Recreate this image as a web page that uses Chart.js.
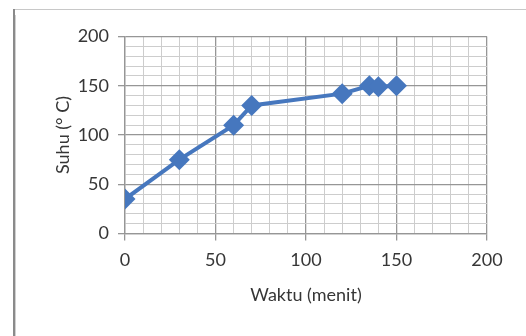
<!DOCTYPE html>
<html>
<head>
<meta charset="utf-8">
<style>
  html, body { margin: 0; padding: 0; background: #fff; }
  #wrap { width: 526px; height: 336px; position: relative; }
</style>
<script src="https://cdn.jsdelivr.net/npm/chart.js@4/dist/chart.umd.min.js"></script>
</head>
<body>
<div id="wrap"><canvas id="c" width="526" height="336"></canvas></div>
<script>
// Heating curve: temperature against time
const waktu = [0, 30, 60, 70, 120, 135, 140, 150];      // minutes
const suhu  = [35, 75, 110, 130, 142, 150, 149, 150];   // degrees C
const xTicks = [0, 50, 100, 150, 200];
const yTicks = [0, 50, 100, 150, 200];

const FONT = 'Lato, "Open Sans", sans-serif';
const TEXT = '#363636';
const BLUE = '#4677be';

const isMajor = (v) => v % 50 === 0;

// Outer frame: dark left edge and thin top rule
const framePlugin = {
  id: 'frame',
  beforeDraw(chart) {
    const ctx = chart.ctx;
    ctx.save();
    ctx.fillStyle = '#ffffff';
    ctx.fillRect(0, 0, chart.width, chart.height);
    ctx.fillStyle = '#8a8a8a';
    ctx.fillRect(13, 9, 2, chart.height - 9);
    ctx.fillStyle = '#d0d0d0';
    ctx.fillRect(15, 15, 1, chart.height - 15);
    ctx.fillStyle = '#c8c8c8';
    ctx.fillRect(15, 9, chart.width - 15, 1);
    ctx.restore();
  }
};

new Chart(document.getElementById('c'), {
  type: 'scatter',
  data: {
    datasets: [{
      data: waktu.map((x, i) => ({ x, y: suhu[i] })),
      showLine: true,
      borderColor: BLUE,
      backgroundColor: BLUE,
      borderWidth: 4,
      pointStyle: 'rectRot',
      pointRadius: 10.5,
      pointBorderWidth: 0,
      pointBackgroundColor: BLUE,
      tension: 0
    }]
  },
  options: {
    responsive: false,
    animation: false,
    devicePixelRatio: 1,
    layout: { padding: { left: 52, right: 39, top: 36.5, bottom: 30 } },
    plugins: { legend: { display: false }, tooltip: { enabled: false } },
    scales: {
      x: {
        type: 'linear',
        min: 0, max: 200,
        ticks: {
          stepSize: 10,
          autoSkip: false,
          maxRotation: 0,
          color: TEXT,
          font: { family: FONT, size: 18 },
          padding: 9,
          callback: (v) => (xTicks.includes(v) ? String(v) : '')
        },
        grid: {
          color: (c) => (isMajor(c.tick.value) ? '#969696' : '#cdcdcd'),
          tickColor: (c) => (isMajor(c.tick.value) ? '#969696' : 'rgba(0,0,0,0)'),
          tickLength: 7,
          lineWidth: (c) => (isMajor(c.tick.value) ? 1.3 : 1)
        },
        border: { display: true, color: '#969696', width: 1.3 },
        title: {
          display: true,
          text: 'Waktu (menit)',
          color: TEXT,
          font: { family: FONT, size: 18 },
          padding: { top: 0, bottom: 0 }
        },
        afterFit: (s) => { s.height = 72.5; }
      },
      y: {
        type: 'linear',
        min: 0, max: 200,
        ticks: {
          stepSize: 10,
          autoSkip: false,
          color: TEXT,
          font: { family: FONT, size: 18 },
          padding: 9,
          callback: (v) => (yTicks.includes(v) ? String(v) : '')
        },
        grid: {
          color: (c) => (isMajor(c.tick.value) ? '#969696' : '#cdcdcd'),
          tickColor: (c) => (isMajor(c.tick.value) ? '#969696' : 'rgba(0,0,0,0)'),
          tickLength: 7,
          lineWidth: (c) => (isMajor(c.tick.value) ? 1.3 : 1)
        },
        border: { display: true, color: '#969696', width: 1.3 },
        title: {
          display: true,
          text: 'Suhu (° C)',
          color: TEXT,
          font: { family: FONT, size: 18 },
          padding: { top: 0, bottom: 0 }
        },
        afterFit: (s) => { s.width = 73; }
      }
    }
  },
  plugins: [framePlugin]
});
</script>
</body>
</html>
